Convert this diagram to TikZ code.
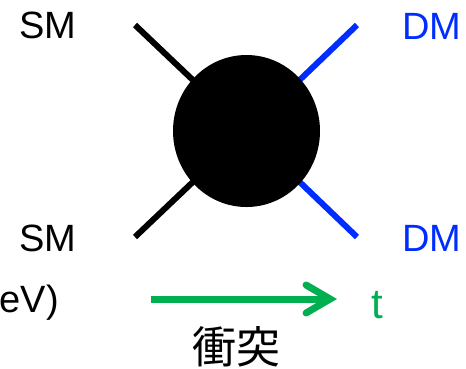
\documentclass[tikz,border=0pt]{standalone}
\usepackage{fontspec}
\setmainfont{Liberation Sans}
\newfontfamily\cjk{Noto Sans CJK JP}
\usetikzlibrary{arrows.meta,shapes.geometric}
\definecolor{dmblue}{RGB}{0,45,255}
\definecolor{tgreen}{RGB}{0,176,80}
\tikzset{
  leg/.style={line width=6pt},
  lbl/.style={font=\fontsize{38}{38}\selectfont, inner sep=0pt},
  blobstyle/.style={ellipse, fill=black, minimum width=147pt, minimum height=152pt, inner sep=0pt}
}
\begin{document}
\begin{tikzpicture}[x=1pt,y=-1pt]
\useasboundingbox (0,0) rectangle (466,368);
\coordinate (c) at (246.5,131);
\coordinate (tl) at (135,25);
\coordinate (bl) at (135,237);
\coordinate (tr) at (357,25);
\coordinate (br) at (357,237);
\draw[leg, black] (tl) -- (c);
\draw[leg, black] (bl) -- (c);
\draw[leg, dmblue] (tr) -- (c);
\draw[leg, dmblue] (br) -- (c);
\node[blobstyle] (blob) at (c) {};
\node[lbl] (sm1) at (48,25) {SM};
\node[lbl] (sm2) at (48,238) {SM};
\node[lbl, text=dmblue] (dm1) at (432,26) {DM};
\node[lbl, text=dmblue] (dm2) at (432,238) {DM};
\node[lbl, anchor=east] (ev) at (59,303) {eV)};
\node[lbl, text=tgreen, font=\fontsize{42}{42}\selectfont] (t) at (377,305) {t};
\coordinate (a1) at (151,299);
\coordinate (a2) at (337,299);
\draw[tgreen, line width=7pt, -{Straight Barb[length=24pt, width=28pt, line cap=round]}] (a1) -- (a2);
\node[inner sep=0pt, font=\cjk\fontsize{44}{44}\selectfont] (col) at (236,347) {衝突};
\end{tikzpicture}
\end{document}
